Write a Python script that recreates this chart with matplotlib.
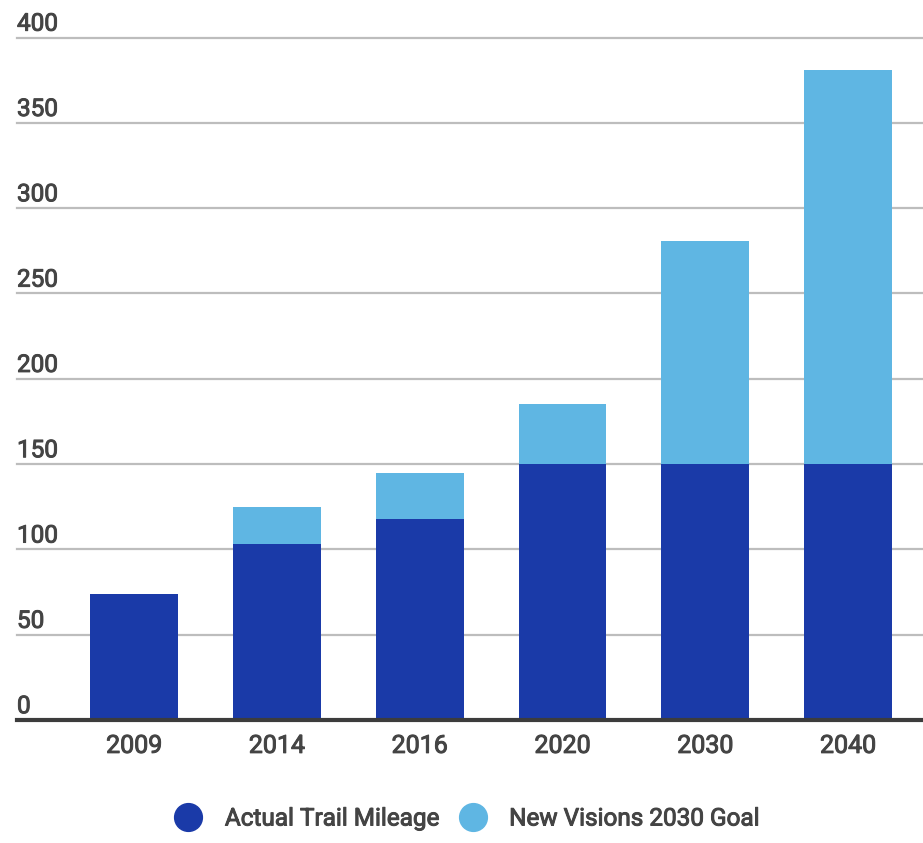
import matplotlib.pyplot as plt
import matplotlib.patheffects as pe
from matplotlib.lines import Line2D
from matplotlib.transforms import blended_transform_factory

years = ['2009', '2014', '2016', '2020', '2030', '2040']
actual_miles = [74, 103, 118, 150, 150, 150]
goal_extra = [0, 22, 27, 35, 131, 231]
y_ticks = [0, 50, 100, 150, 200, 250, 300, 350, 400]

dark_blue = '#1a3aa8'
light_blue = '#5fb6e3'
text_col = '#444444'

plt.rcParams['font.family'] = ['Roboto', 'DejaVu Sans']

# slightly heavier strokes for all labels
thick = [pe.withStroke(linewidth=0.7, foreground=text_col)]

fig = plt.figure(figsize=(9.23, 8.43), dpi=100)
ax = fig.add_axes([17 / 923, 1 - 720 / 843, 1 - 17 / 923, (720 - 37.5) / 843])

x = list(range(len(years)))
ax.bar(x, actual_miles, width=0.615, color=dark_blue, zorder=3)
ax.bar(x, goal_extra, width=0.615, bottom=actual_miles, color=light_blue, zorder=3)

ax.set_xlim(-0.82, 5.525)
ax.set_ylim(0, 400)

# horizontal grid, with the value written just above each line
trans = blended_transform_factory(ax.transAxes, ax.transData)
for v in y_ticks:
    if v == 0:
        ax.axhline(0, color='#3c3c3c', lw=3, zorder=4, clip_on=False)
    else:
        ax.axhline(v, color='#bdbdbd', lw=1.6, zorder=1, clip_on=False)
    ax.text(0, v + 4, str(v), transform=trans, ha='left', va='baseline',
            fontsize=17.5, color=text_col, path_effects=thick)

ax.set_yticks([])
ax.set_xticks(x)
ax.set_xticklabels(years, fontsize=18, color=text_col, path_effects=thick)
ax.tick_params(axis='x', length=0, pad=10)
for s in ax.spines.values():
    s.set_visible(False)

handles = [
    Line2D([], [], marker='o', ls='', markersize=20, color=dark_blue),
    Line2D([], [], marker='o', ls='', markersize=20, color=light_blue),
]
leg = fig.legend(handles, ['Actual Trail Mileage', 'New Visions 2030 Goal'],
                 loc='center', bbox_to_anchor=(0.5, 1 - 819 / 843), ncol=2,
                 frameon=False, handletextpad=0.5, columnspacing=0.4,
                 prop={'size': 17.5}, labelcolor=text_col)
for t in leg.get_texts():
    t.set_path_effects(thick)

fig.savefig('out.png', dpi=100)
